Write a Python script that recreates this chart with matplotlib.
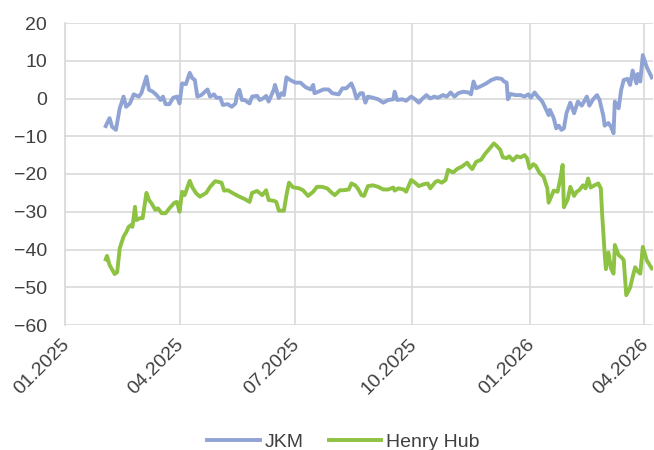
import pandas as pd
import matplotlib
matplotlib.use("Agg")
import matplotlib.pyplot as plt
import matplotlib.dates as mdates
import matplotlib.transforms as mtransforms

# --- spread series (USD/MWh style units, read daily) ---
jkm_dates = [
    "2025-02-02", "2025-02-05", "2025-02-07", "2025-02-10", "2025-02-13", "2025-02-16",
    "2025-02-18", "2025-02-21", "2025-02-24", "2025-02-28", "2025-03-02", "2025-03-06",
    "2025-03-08", "2025-03-11", "2025-03-14", "2025-03-17", "2025-03-19", "2025-03-21",
    "2025-03-24", "2025-03-27", "2025-03-30", "2025-04-01", "2025-04-03", "2025-04-06",
    "2025-04-09", "2025-04-11", "2025-04-13", "2025-04-15", "2025-04-18", "2025-04-23",
    "2025-04-25", "2025-04-28", "2025-04-30", "2025-05-03", "2025-05-05", "2025-05-09",
    "2025-05-12", "2025-05-15", "2025-05-16", "2025-05-18", "2025-05-20", "2025-05-22",
    "2025-05-26", "2025-05-28", "2025-06-01", "2025-06-03", "2025-06-06", "2025-06-08",
    "2025-06-10", "2025-06-14", "2025-06-15", "2025-06-18", "2025-06-20", "2025-06-22",
    "2025-06-24", "2025-06-27", "2025-07-01", "2025-07-05", "2025-07-09", "2025-07-13",
    "2025-07-15", "2025-07-16", "2025-07-19", "2025-07-23", "2025-07-27", "2025-07-30",
    "2025-08-04", "2025-08-07", "2025-08-10", "2025-08-14", "2025-08-16", "2025-08-18",
    "2025-08-21", "2025-08-23", "2025-08-25", "2025-08-27", "2025-08-31", "2025-09-04",
    "2025-09-08", "2025-09-12", "2025-09-16", "2025-09-17", "2025-09-19", "2025-09-23",
    "2025-09-26", "2025-09-30", "2025-10-03", "2025-10-06", "2025-10-09", "2025-10-12",
    "2025-10-15", "2025-10-18", "2025-10-21", "2025-10-25", "2025-10-28", "2025-10-31",
    "2025-11-03", "2025-11-06", "2025-11-10", "2025-11-14", "2025-11-16", "2025-11-18",
    "2025-11-20", "2025-11-24", "2025-11-28", "2025-12-02", "2025-12-06", "2025-12-10",
    "2025-12-12", "2025-12-14", "2025-12-15", "2025-12-17", "2025-12-21", "2025-12-25",
    "2025-12-28", "2025-12-31", "2026-01-02", "2026-01-05", "2026-01-07", "2026-01-11",
    "2026-01-13", "2026-01-16", "2026-01-17", "2026-01-20", "2026-01-22", "2026-01-24",
    "2026-01-26", "2026-01-28", "2026-01-30", "2026-02-02", "2026-02-05", "2026-02-08",
    "2026-02-11", "2026-02-15", "2026-02-17", "2026-02-20", "2026-02-23", "2026-02-25",
    "2026-02-28", "2026-03-01", "2026-03-04", "2026-03-06", "2026-03-08", "2026-03-09",
    "2026-03-12", "2026-03-14", "2026-03-16", "2026-03-19", "2026-03-21", "2026-03-23",
    "2026-03-26", "2026-03-27", "2026-03-29", "2026-03-31", "2026-04-03", "2026-04-07",
]
jkm_values = [
    -7.3, -5.2, -7.5, -8.3, -2.6, 0.5,
    -2.2, -1.3, 1.1, 0.5, 1.4, 5.8,
    2.3, 1.8, 0.9, -0.4, 0.5, -1.5,
    -1.5, 0.2, 0.5, -1.3, 4.0, 3.8,
    6.8, 5.4, 4.9, 0.5, 0.9, 2.4,
    0.5, 1.1, 0.2, 0.2, -1.7, -1.5,
    -2.2, -1.3, 0.9, 2.3, -0.4, -0.4,
    -1.3, 0.5, 0.7, -0.4, 0.1, 0.7,
    -0.8, 2.3, 3.6, 0.1, 1.4, 0.9,
    5.6, 4.9, 4.2, 4.2, 3.0, 2.4,
    3.6, 1.4, 1.8, 2.4, 2.4, 1.4,
    1.1, 2.7, 2.7, 4.0, 2.4, 0.0,
    1.4, 1.4, -1.1, 0.5, 0.2, -0.2,
    -1.1, -0.4, -0.2, 1.8, -0.4, -0.2,
    -0.6, 0.5, -0.2, -1.1, 0.0, 0.9,
    0.0, 0.5, 0.2, 0.9, 0.5, 1.6,
    0.5, 1.4, 1.8, 1.6, 1.1, 4.5,
    2.7, 3.3, 4.0, 4.9, 5.4, 5.2,
    4.5, 4.2, -0.2, 1.2, 0.9, 0.9,
    0.5, 1.1, 0.2, 1.6, 0.7, -0.8,
    -2.2, -4.4, -3.0, -5.2, -7.9, -7.2,
    -8.3, -7.9, -3.9, -1.1, -3.9, -0.8,
    -1.9, 0.5, -1.9, -0.2, 0.9, -0.4,
    -4.6, -7.2, -6.5, -7.5, -9.2, -0.8,
    -2.6, 2.3, 4.9, 5.2, 3.6, 7.4,
    4.0, 6.5, 4.5, 11.5, 8.4, 5.6,
]

hh_dates = [
    "2025-02-02", "2025-02-03", "2025-02-05", "2025-02-09", "2025-02-11", "2025-02-13",
    "2025-02-16", "2025-02-18", "2025-02-20", "2025-02-22", "2025-02-23", "2025-02-25",
    "2025-02-26", "2025-03-01", "2025-03-03", "2025-03-06", "2025-03-08", "2025-03-10",
    "2025-03-13", "2025-03-15", "2025-03-18", "2025-03-21", "2025-03-24", "2025-03-28",
    "2025-03-30", "2025-04-01", "2025-04-03", "2025-04-05", "2025-04-09", "2025-04-11",
    "2025-04-14", "2025-04-17", "2025-04-22", "2025-04-25", "2025-04-29", "2025-05-04",
    "2025-05-06", "2025-05-09", "2025-05-13", "2025-05-18", "2025-05-22", "2025-05-26",
    "2025-05-28", "2025-06-01", "2025-06-05", "2025-06-08", "2025-06-10", "2025-06-14",
    "2025-06-16", "2025-06-18", "2025-06-22", "2025-06-24", "2025-06-26", "2025-06-29",
    "2025-07-04", "2025-07-07", "2025-07-11", "2025-07-15", "2025-07-18", "2025-07-22",
    "2025-07-26", "2025-07-30", "2025-08-01", "2025-08-05", "2025-08-08", "2025-08-12",
    "2025-08-14", "2025-08-17", "2025-08-19", "2025-08-22", "2025-08-24", "2025-08-27",
    "2025-08-31", "2025-09-04", "2025-09-08", "2025-09-12", "2025-09-16", "2025-09-17",
    "2025-09-20", "2025-09-24", "2025-09-26", "2025-09-30", "2025-10-03", "2025-10-06",
    "2025-10-10", "2025-10-13", "2025-10-15", "2025-10-19", "2025-10-21", "2025-10-24",
    "2025-10-27", "2025-10-29", "2025-11-02", "2025-11-05", "2025-11-09", "2025-11-13",
    "2025-11-15", "2025-11-17", "2025-11-20", "2025-11-24", "2025-11-27", "2025-11-30",
    "2025-12-04", "2025-12-06", "2025-12-09", "2025-12-11", "2025-12-14", "2025-12-16",
    "2025-12-19", "2025-12-22", "2025-12-25", "2025-12-28", "2025-12-30", "2026-01-01",
    "2026-01-04", "2026-01-06", "2026-01-09", "2026-01-12", "2026-01-15", "2026-01-16",
    "2026-01-18", "2026-01-20", "2026-01-23", "2026-01-25", "2026-01-27", "2026-01-28",
    "2026-01-31", "2026-02-02", "2026-02-05", "2026-02-07", "2026-02-09", "2026-02-12",
    "2026-02-14", "2026-02-16", "2026-02-18", "2026-02-21", "2026-02-24", "2026-02-26",
    "2026-02-27", "2026-03-01", "2026-03-02", "2026-03-04", "2026-03-06", "2026-03-08",
    "2026-03-09", "2026-03-12", "2026-03-14", "2026-03-16", "2026-03-18", "2026-03-21",
    "2026-03-23", "2026-03-25", "2026-03-27", "2026-03-29", "2026-03-31", "2026-04-03",
    "2026-04-07",
]
hh_values = [
    -42.6, -41.7, -44.1, -46.5, -46.0, -39.7,
    -36.6, -35.5, -34.0, -33.5, -34.0, -28.7,
    -32.2, -31.7, -31.7, -25.0, -26.9, -27.8,
    -29.5, -29.1, -30.4, -30.4, -29.1, -27.6,
    -27.4, -30.0, -24.7, -25.6, -21.8, -23.5,
    -25.1, -26.0, -25.0, -23.4, -21.9, -22.3,
    -24.4, -24.3, -25.1, -26.0, -26.6, -27.4,
    -25.0, -24.5, -25.6, -24.3, -26.9, -27.1,
    -27.4, -29.7, -29.7, -25.6, -22.3, -23.5,
    -23.8, -24.3, -25.8, -24.7, -23.4, -23.4,
    -23.8, -25.1, -25.6, -24.3, -24.3, -24.1,
    -22.5, -23.0, -23.8, -25.6, -25.8, -23.2,
    -23.0, -23.4, -24.1, -24.1, -23.6, -24.4,
    -23.8, -24.1, -24.7, -21.6, -22.3, -23.2,
    -22.7, -22.5, -23.8, -22.1, -21.8, -22.3,
    -21.6, -18.9, -19.6, -18.7, -18.0, -17.0,
    -18.0, -18.7, -16.8, -16.2, -14.7, -13.5,
    -11.9, -12.5, -13.6, -15.6, -15.8, -15.3,
    -16.4, -15.3, -15.6, -15.0, -15.8, -18.5,
    -17.4, -17.9, -19.8, -20.7, -23.8, -27.6,
    -26.0, -24.4, -24.7, -21.6, -17.6, -28.8,
    -26.7, -23.4, -25.8, -24.7, -24.3, -23.0,
    -23.8, -21.2, -23.6, -23.0, -22.5, -23.8,
    -30.4, -41.0, -45.2, -40.8, -45.0, -46.4,
    -38.8, -41.5, -42.0, -42.8, -52.1, -50.1,
    -47.3, -44.7, -45.8, -46.4, -39.3, -42.8,
    -45.0,
]

y_ticks = [20, 10, 0, -10, -20, -30, -40, -50, -60]
x_ticks = ["2025-01-01", "2025-04-01", "2025-07-01", "2025-10-01", "2026-01-01", "2026-04-01"]

plt.rcParams["font.family"] = ["Liberation Sans", "DejaVu Sans"]
text_color = "#404040"
grid_color = "#d9d9d9"

fig = plt.figure(figsize=(6.54, 4.5), dpi=100)
ax = fig.add_axes([65 / 654, 1 - 325 / 450, 588 / 654, 302 / 450])

ax.plot(pd.to_datetime(jkm_dates), jkm_values, color="#8FA3D4", lw=2.8,
        solid_joinstyle="round", label="JKM")
ax.plot(pd.to_datetime(hh_dates), hh_values, color="#8DC242", lw=2.8,
        solid_joinstyle="round", label="Henry Hub")

ax.set_ylim(-60, 20)
ax.set_yticks(y_ticks)
ax.set_xlim(pd.Timestamp("2025-01-01"), pd.Timestamp("2026-04-08"))
ax.set_xticks(pd.to_datetime(x_ticks))
ax.xaxis.set_major_formatter(mdates.DateFormatter("%m.%Y"))

ax.grid(True, color=grid_color, lw=1.2)
ax.set_axisbelow(True)
for side in ["top", "right", "bottom"]:
    ax.spines[side].set_visible(False)
ax.spines["left"].set_color(grid_color)
ax.spines["left"].set_linewidth(1.2)

ax.tick_params(axis="both", length=0, labelsize=14, colors=text_color)
ax.tick_params(axis="y", pad=13)
ax.tick_params(axis="x", pad=8)
# rotated month labels, nudged left so the last one stays inside the figure
shift = mtransforms.ScaledTranslation(-4 / 100, 0, fig.dpi_scale_trans)
for lbl in ax.get_xticklabels():
    lbl.set_rotation(45)
    lbl.set_ha("right")
    lbl.set_va("top")
    lbl.set_rotation_mode("anchor")
    lbl.set_transform(lbl.get_transform() + shift)

fig.legend(loc="center", bbox_to_anchor=(0.525, 0.018), ncol=2, frameon=False,
           fontsize=14, labelcolor=text_color, handlelength=2.7,
           handletextpad=0.25, columnspacing=1.3)

fig.savefig("out.png", dpi=100)
